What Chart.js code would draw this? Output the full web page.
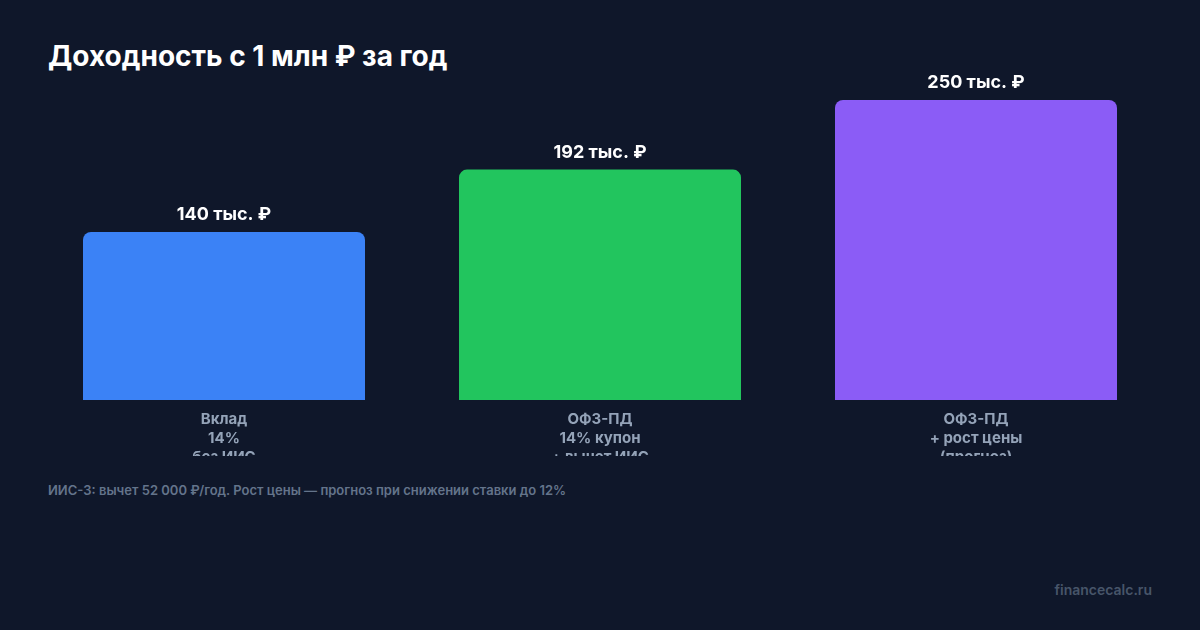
<!DOCTYPE html>
<html lang="ru">

<head>
    <meta charset="UTF-8">
    <script src="https://cdn.jsdelivr.net/npm/chart.js"></script>
    <title>Доходность</title>
    <style>
        body {
            margin: 0;
            width: 1200px;
            height: 630px;
            background: #0f172a;
            font-family: Inter, "Noto Sans", sans-serif;
            position: relative;
            overflow: hidden;
        }

        .titulo {
            position: absolute;
            left: 48px;
            top: 39px;
            margin: 0;
            font-size: 28px;
            font-weight: 700;
            color: #ffffff;
        }

        .grafico {
            position: absolute;
            left: 0;
            top: 0;
            width: 1200px;
            height: 456px;
            overflow: hidden;
        }

        .grafico canvas {
            display: block;
        }

        .nota {
            position: absolute;
            left: 48px;
            top: 482px;
            font-size: 13px;
            font-weight: 600;
            color: #64748b;
        }

        .marca {
            position: absolute;
            right: 48px;
            top: 581px;
            font-size: 14px;
            font-weight: 600;
            color: #475569;
        }
    </style>
</head>

<body>
    <h1 class="titulo">Доходность с 1 млн ₽ за год</h1>
    <div class="grafico">
        <div style="width:1200px;height:500px;position:relative">
            <canvas id="myChart"></canvas>
        </div>
    </div>
    <div class="nota">ИИС-3: вычет 52 000 ₽/год. Рост цены — прогноз при снижении ставки до 12%</div>
    <div class="marca">financecalc.ru</div>
</body>

<script>
    // dados do gráfico
    const categorias = [
        ['Вклад', '14%', 'без ИИС'],
        ['ОФЗ-ПД', '14% купон', '+ вычет ИИС'],
        ['ОФЗ-ПД', '+ рост цены', '(прогноз)']
    ];
    const valores = [140, 192, 250];
    const rotulos = ['140 тыс. ₽', '192 тыс. ₽', '250 тыс. ₽'];
    const cores = ['#3b82f6', '#22c55e', '#8b5cf6'];

    // escreve o valor em cima de cada barra
    const rotuloBarras = {
        id: 'rotuloBarras',
        afterDatasetsDraw(chart) {
            const ctx = chart.ctx;
            const meta = chart.getDatasetMeta(0);
            ctx.save();
            ctx.fillStyle = '#ffffff';
            ctx.font = '700 18px Inter, "Noto Sans", sans-serif';
            ctx.textAlign = 'center';
            ctx.textBaseline = 'middle';
            meta.data.forEach((barra, i) => {
                ctx.fillText(rotulos[i], barra.x, barra.y - 17);
            });
            ctx.restore();
        }
    };

    const ctx = document.getElementById('myChart');

    new Chart(ctx, {
        type: 'bar',
        data: {
            labels: categorias,
            datasets: [{
                data: valores,
                backgroundColor: cores,
                borderRadius: { topLeft: 8, topRight: 8, bottomLeft: 0, bottomRight: 0 },
                borderSkipped: false,
                barPercentage: 0.75,
                categoryPercentage: 1
            }]
        },
        options: {
            responsive: true,
            maintainAspectRatio: false,
            animation: false,
            layout: {
                padding: { left: 36, right: 36, top: 88, bottom: 31 }
            },
            plugins: {
                legend: { display: false },
                tooltip: { enabled: false }
            },
            scales: {
                y: {
                    display: false,
                    min: 0,
                    max: 260
                },
                x: {
                    grid: { display: false },
                    border: { display: false },
                    ticks: {
                        color: '#94a3b8',
                        padding: 2,
                        font: { family: 'Inter, "Noto Sans", sans-serif', size: 15, weight: '700', lineHeight: '19px' }
                    }
                }
            }
        },
        plugins: [rotuloBarras]
    });
</script>

</html>
